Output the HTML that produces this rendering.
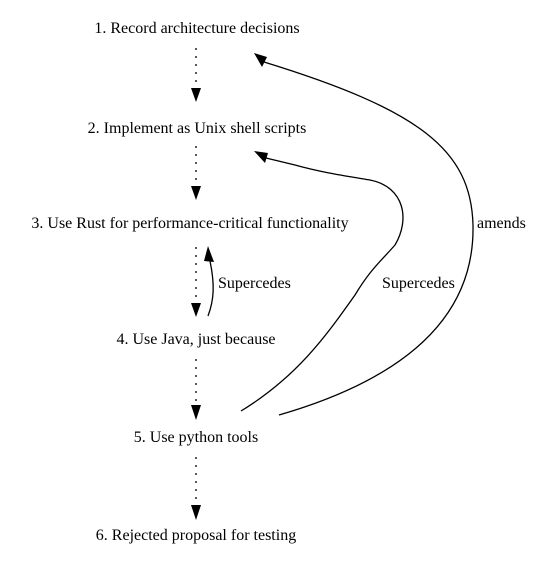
<!DOCTYPE html>
<html><head><style>body{margin:0;background:#fff}svg{display:block}</style></head><body>
<svg width="539" height="564" viewBox="0 0 539 564" xmlns="http://www.w3.org/2000/svg" fill="#000" style="font-family:'Liberation Serif',Times,'Times New Roman','DejaVu Serif',serif;font-size:16px">
<g text-anchor="middle">
<text x="197" y="33" style="font-family:'Liberation Serif',Times,serif">1. Record architecture decisions</text>
<text x="197" y="133" style="font-family:'Liberation Serif',Times,serif">2. Implement as Unix shell scripts</text>
<text x="190" y="228" style="font-family:'Liberation Serif',Times,serif">3. Use Rust for performance-critical functionality</text>
<text x="196" y="344" style="font-family:'Liberation Serif',Times,serif">4. Use Java, just because</text>
<text x="196" y="442" style="font-family:'Liberation Serif',Times,serif">5. Use python tools</text>
<text x="196" y="540" style="font-family:'Liberation Serif',Times,serif">6. Rejected proposal for testing</text>
</g>
<g stroke="#000" stroke-width="1.3" stroke-dasharray="2,6" fill="none">
<line x1="196" y1="48" x2="196" y2="88"/>
<line x1="196" y1="146" x2="196" y2="186"/>
<line x1="196" y1="247" x2="196" y2="302"/>
<line x1="196" y1="359" x2="196" y2="405"/>
<line x1="196" y1="457" x2="196" y2="505"/>
</g>
<g fill="#000">
<polygon points="191,88 201,88 196,102"/>
<polygon points="191,186 201,186 196,200"/>
<polygon points="191,303 201,303 196,317"/>
<polygon points="191,405 201,405 196,420"/>
<polygon points="191,505 201,505 196,520"/>
<polygon points="208,246 204,261 214,262"/>
<polygon points="254,151 268,153 265,163"/>
<polygon points="254,53 267,57 262,67"/>
</g>
<g stroke="#000" stroke-width="1.3" fill="none">
<path d="M208,316 C214,300 215,285 210,261"/>
<path d="M241,411 C300,375 330,330 355,295 C370,270 380,262 395,245 C410,220 405,187 370,180 C340,175 320,172 295,165 L266,158"/>
<path d="M279,415 C400,380 475,320 473,225 C471,150 420,110 264,62"/>
</g>
<text x="218" y="288" style="font-family:'Liberation Serif',Times,serif">Supercedes</text>
<text x="382" y="288" style="font-family:'Liberation Serif',Times,serif">Supercedes</text>
<text x="477" y="228" style="font-family:'Liberation Serif',Times,serif">amends</text>
</svg>
</body></html>
